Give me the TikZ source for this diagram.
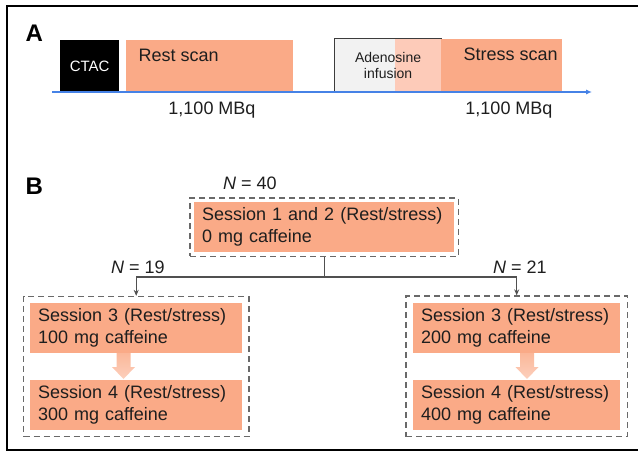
\documentclass[tikz,border=0pt]{standalone}
\usepackage{fontspec}
\setmainfont{Liberation Sans}
\usetikzlibrary{arrows.meta,positioning,fit,calc}

\definecolor{salmon}{RGB}{250,170,135}
\definecolor{lightsalmon}{RGB}{253,203,185}
\definecolor{adgray}{RGB}{242,242,242}
\definecolor{adborder}{RGB}{60,60,60}
\definecolor{dashgray}{RGB}{105,105,105}
\definecolor{conngray}{RGB}{80,80,80}
\definecolor{axisblue}{RGB}{70,130,230}
\definecolor{textblack}{RGB}{30,30,30}

\newcommand{\bigtxt}{\fontsize{18}{22}\selectfont}

\tikzset{
  scanbox/.style={fill=salmon, anchor=north west, inner sep=0pt},
  scanlbl/.style={anchor=base west, font=\bigtxt, text=textblack},
  sessbox/.style={fill=salmon, anchor=north west, align=left, text width=#1,
    inner xsep=8pt, minimum height=50pt, font=\bigtxt, text=textblack},
  groupbox/.style={draw=dashgray, line width=1.3pt, dash pattern=on 6pt off 4pt},
  conn/.style={draw=conngray, line width=1.3pt},
  steparrow/.pic={
    \shade[top color=salmon!85, bottom color=salmon!55]
      (-7,0) -- (7,0) -- (7,14) -- (11.5,14) -- (0,26) -- (-11.5,14) -- (-7,14) -- cycle;
  },
  panel/.style={anchor=base west, font=\bfseries\fontsize{24}{24}\selectfont}
}

\begin{document}
\begin{tikzpicture}[x=1pt,y=-1pt]
  \useasboundingbox (0,0) rectangle (638,452);

  % frame
  \draw[line width=2pt] (638,6.5) -- (6.5,6.5) -- (6.5,449.5) -- (638,449.5);

  % panel A: protocol
  \node[panel] (labA) at (22,42) {A};

  \node[fill=black, anchor=north west, minimum width=59pt, minimum height=52pt,
    inner sep=0pt, text=white, font=\fontsize{15}{18}\selectfont] (ctac) at (60,40) {CTAC};
  \node[scanbox, minimum width=167pt, minimum height=52pt] (rest) at (126,40) {};
  \node[scanlbl] (restlbl) at ($(rest.north west)+(9,22)$) {Rest scan};

  \fill[adgray] (334,38) rectangle (395,91);
  \fill[lightsalmon] (395,38) rectangle (441,91);
  \node[draw=adborder, line width=1.2pt, anchor=north west, minimum width=107pt,
    minimum height=53pt, inner sep=0pt, align=center, text=textblack,
    font=\fontsize{14}{16}\selectfont] (aden) at (334,38) {Adenosine\\infusion};

  \node[scanbox, minimum width=121pt, minimum height=53pt] (stress) at (441,39) {};
  \node[scanlbl] (stresslbl) at ($(stress.north west)+(19,22)$) {Stress scan};

  \coordinate (axL) at (52,92);
  \coordinate (axR) at (592,92);
  \draw[axisblue, line width=1.1pt, -{Latex[length=6pt,width=5pt]}] (axL) -- (axR);

  \node[font=\bigtxt, text=textblack] (dose1) at (212,110) {1,100 MBq};
  \node[font=\bigtxt, text=textblack] (dose2) at (509,110) {1,100 MBq};

  % panel B: caffeine sessions
  \node[panel] (labB) at (22,194) {B};

  \node[sessbox=244pt] (s12) at (194,202) {Session 1 and 2 (Rest/stress)\\0 mg caffeine};
  \node[groupbox, fit=(s12), inner sep=4pt] (grpTop) {};
  \node[font=\bigtxt, text=textblack] (n40) at (250,183) {\textit{N} = 40};

  \node[sessbox=196pt] (s3L) at (30,303) {Session 3 (Rest/stress)\\100 mg caffeine};
  \node[sessbox=196pt, below=26pt of s3L] (s4L) {Session 4 (Rest/stress)\\300 mg caffeine};
  \node[groupbox, fit=(s3L)(s4L), inner sep=6.5pt] (grpL) {};

  \node[sessbox=191pt] (s3R) at (413,303) {Session 3 (Rest/stress)\\200 mg caffeine};
  \node[sessbox=191pt, below=26pt of s3R] (s4R) {Session 4 (Rest/stress)\\400 mg caffeine};
  \node[groupbox, fit=(s3R)(s4R), inner sep=7pt] (grpR) {};

  \pic at (123.5,353) {steparrow};
  \pic at (527,353) {steparrow};

  \node[font=\bigtxt, text=textblack] (n19) at (138,267) {\textit{N} = 19};
  \node[font=\bigtxt, text=textblack] (n21) at (520,267) {\textit{N} = 21};

  \coordinate (split) at (grpTop.south |- 0,277);
  \draw[conn] (grpTop.south) -- (split);
  \draw[conn, -{Stealth[length=6pt,width=5pt]}] (split) -| (grpL.north);
  \draw[conn, -{Stealth[length=6pt,width=5pt]}] (split) -| (grpR.north);
\end{tikzpicture}
\end{document}
